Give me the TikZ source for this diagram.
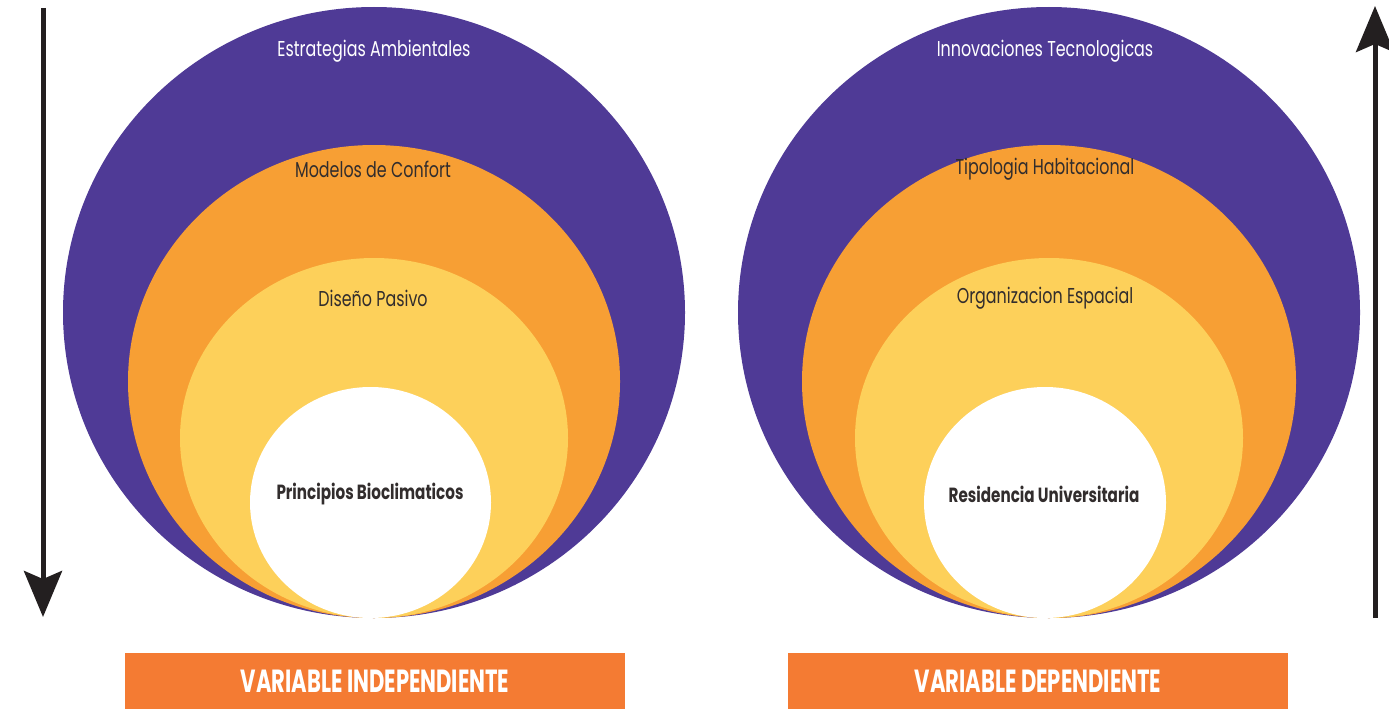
\documentclass[tikz,border=0pt]{standalone}
\usepackage{fontspec}
\usetikzlibrary{arrows.meta,shapes.geometric}
\newfontfamily\lblfont[FakeStretch=0.74]{Poppins}
\newfontfamily\boxfont[FakeStretch=0.66]{Poppins}
\definecolor{cpurple}{RGB}{79,58,150}
\definecolor{corange}{RGB}{247,159,52}
\definecolor{cyellow}{RGB}{253,208,90}
\definecolor{cbox}{RGB}{244,123,51}
\definecolor{carrow}{RGB}{35,31,32}
\definecolor{ctext}{RGB}{50,45,45}
\begin{document}
\begin{tikzpicture}[x=1pt,y=-1pt,
  ring/.style={ellipse,draw=none,inner sep=0pt,outer sep=0pt},
  lbl/.style={font=\lblfont\fontsize{21.5}{25}\selectfont,text=ctext,inner sep=0pt},
  blbl/.style={font=\lblfont\bfseries\fontsize{20.5}{24}\selectfont,text=ctext,inner sep=0pt},
  varbox/.style={fill=cbox,minimum width=500pt,minimum height=56pt,inner sep=0pt,text=white,
    font=\boxfont\bfseries\fontsize{32}{36}\selectfont},
  bigarrow/.style={draw=carrow,line width=5pt,-{Stealth[length=46pt,width=38pt,inset=8pt,fill=carrow]}}
]
\useasboundingbox (0,0) rectangle (1389,709);
% left group
\node[ring,fill=cpurple,minimum width=622pt,minimum height=611pt] (lp) at (374,312.5) {};
\node[ring,fill=corange,minimum width=492pt,minimum height=473pt] (lo) at (374,381.5) {};
\node[ring,fill=cyellow,minimum width=388pt,minimum height=360pt] (ly) at (374,438) {};
\node[ring,fill=white,minimum width=241pt,minimum height=231pt] (lw) at (370.5,502.5) {};
\node[lbl,text=white] (lpt) at (374,51) {Estrategias Ambientales};
\node[lbl] (lot) at (373,169) {Modelos de Confort};
\node[lbl] (lyt) at (373,298) {Diseño Pasivo};
\node[blbl] (lwt) at (370,494) {Principios Bioclimaticos};
% right group
\node[ring,fill=cpurple,minimum width=622pt,minimum height=611pt] (rp) at (1049,312.5) {};
\node[ring,fill=corange,minimum width=494pt,minimum height=473pt] (ro) at (1049,381.5) {};
\node[ring,fill=cyellow,minimum width=388pt,minimum height=360pt] (ry) at (1049,438) {};
\node[ring,fill=white,minimum width=242pt,minimum height=231pt] (rw) at (1045,502.5) {};
\node[lbl,text=white] (rpt) at (1045,51) {Innovaciones Tecnologicas};
\node[lbl] (rot) at (1045,169) {Tipologia Habitacional};
\node[lbl] (ryt) at (1045,298) {Organizacion Espacial};
\node[blbl] (rwt) at (1044,494) {Residencia Universitaria};
% boxes
\node[varbox] (vi) at (375,681) {VARIABLE INDEPENDIENTE};
\node[varbox] (vd) at (1038,681) {VARIABLE DEPENDIENTE};
% arrows
\coordinate (a1s) at (43,8);
\coordinate (a1e) at (43,617);
\coordinate (a2s) at (1375,618);
\coordinate (a2e) at (1375,6);
\draw[bigarrow] (a1s) -- (a1e);
\draw[bigarrow] (a2s) -- (a2e);
\end{tikzpicture}
\end{document}
